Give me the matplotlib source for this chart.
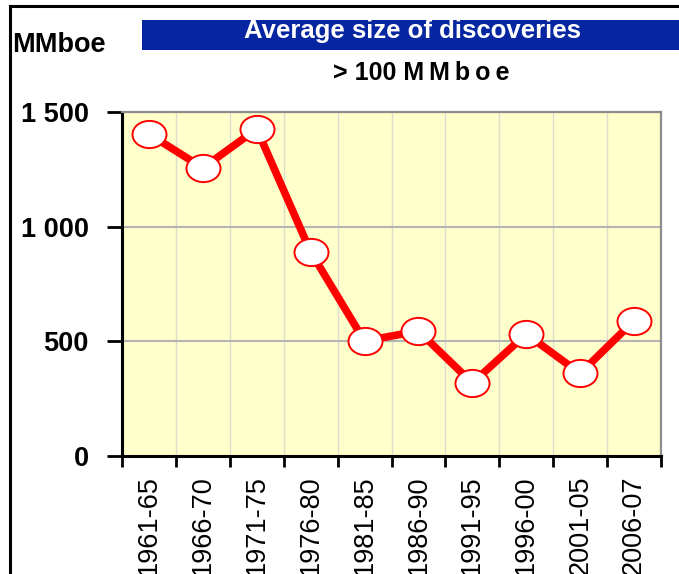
import numpy as np
import matplotlib
matplotlib.use("Agg")
import matplotlib.pyplot as plt
from matplotlib.path import Path
from matplotlib.transforms import Affine2D
from matplotlib.patches import Rectangle
from matplotlib.lines import Line2D

# Datos
periods = ["1961-65", "1966-70", "1971-75", "1976-80", "1981-85",
           "1986-90", "1991-95", "1996-00", "2001-05", "2006-07"]
avg_size = [1404, 1256, 1426, 890, 501, 545, 318, 532, 360, 590]
y_ticks = [0, 500, 1000, 1500]
y_tick_labels = ["0", "500", "1 000", "1 500"]

plt.rcParams['font.family'] = ['Liberation Sans', 'DejaVu Sans']

fig = plt.figure(figsize=(6.79, 5.74), dpi=100)
ax = fig.add_axes([0.1797, 0.2056, 0.7938, 0.5993])
ax.set_facecolor("#FFFFCC")

# Marcador elíptico
ellipse = Path.unit_circle().transformed(Affine2D().scale(1.0, 0.8))

x = np.arange(len(periods))
ax.plot(x, avg_size, color="#FF0000", lw=5.5, zorder=3, solid_capstyle='round')
ax.plot(x, avg_size, linestyle='none', marker=ellipse, markersize=24.5,
        markerfacecolor="white", markeredgecolor="#FF0000",
        markeredgewidth=1.4, zorder=4)

ax.set_xlim(-0.5, len(periods) - 0.5)
ax.set_ylim(0, 1500)

ax.set_yticks(y_ticks)
ax.set_yticklabels(y_tick_labels, fontsize=19.5, fontweight='bold')
ax.tick_params(axis='y', length=11, width=2, pad=13, color='black')

ax.set_xticks(x)
ax.set_xticklabels(periods, rotation=90, fontsize=19.5)
ax.set_xticks(np.arange(-0.5, len(periods)), minor=True)
ax.tick_params(axis='x', which='major', length=0, pad=14)
ax.tick_params(axis='x', which='minor', length=8, width=2, color='black')

ax.grid(axis='y', which='major', color="#B4B4B4", lw=1.5, zorder=1)
ax.grid(axis='x', which='minor', color="#DCDCCC", lw=1, zorder=1)
ax.set_axisbelow(True)

for side in ['left', 'bottom']:
    ax.spines[side].set_color('black')
    ax.spines[side].set_linewidth(2.2)
for side in ['top', 'right']:
    ax.spines[side].set_color('#8C8C8C')
    ax.spines[side].set_linewidth(1.6)

# Barra de título
fig.patches.append(Rectangle((142 / 679, 1 - 50 / 574), 1.0, 30 / 574,
                             transform=fig.transFigure, facecolor="#0526A0",
                             edgecolor='none', zorder=0))
fig.text(0.607, 1 - 38 / 574, "Average size of discoveries", color='white',
         fontsize=18.5, fontweight='bold', ha='center', va='baseline')
fig.text(0.621, 1 - 80 / 574, "> 100 M\u2009M\u2009b\u2009o\u2009e", color='black',
         fontsize=18, fontweight='bold', ha='center', va='baseline')
fig.text(12 / 679, 1 - 52 / 574, "MMboe", color='black',
         fontsize=19.5, fontweight='bold', ha='left', va='baseline')

# Marco exterior
fig.lines.append(Line2D([10 / 679, 10 / 679], [0, 1 - 6 / 574],
                        transform=fig.transFigure, color='black', lw=2.2))
fig.lines.append(Line2D([10 / 679, 1], [1 - 6 / 574, 1 - 6 / 574],
                        transform=fig.transFigure, color='black', lw=2.2))

fig.savefig("out.png", dpi=100)
